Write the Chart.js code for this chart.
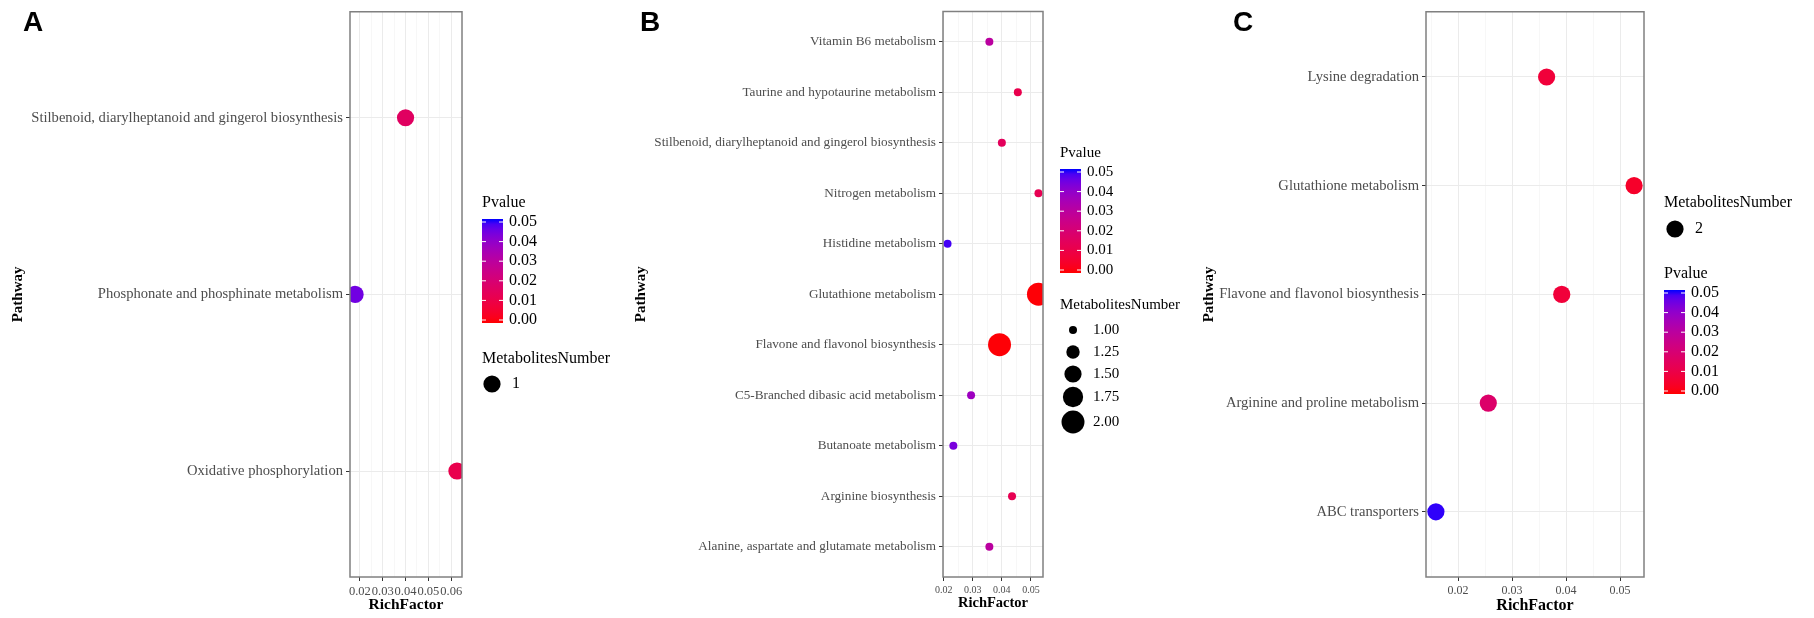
<!DOCTYPE html>
<html>
<head>
<meta charset="utf-8">
<script src="https://cdn.jsdelivr.net/npm/chart.js@4.4.1/dist/chart.umd.min.js"></script>
<style>
  html, body { margin: 0; background: #fff; }
  #page { position: relative; width: 1814px; height: 618px; overflow: hidden; }
  canvas { position: absolute; top: 0; }
  .tag { position: absolute; top: 8px; font: bold 28px 'Liberation Sans', Arial, sans-serif; line-height: 28px; color: #000; }
</style>
</head>
<body>
<div id="page">
  <canvas id="chartA" width="620" height="618" style="left:0"></canvas>
  <canvas id="chartB" width="570" height="618" style="left:620px"></canvas>
  <canvas id="chartC" width="624" height="618" style="left:1190px"></canvas>
  <div class="tag" style="left:23px">A</div>
  <div class="tag" style="left:640px">B</div>
  <div class="tag" style="left:1233px">C</div>
</div>
<script>
// panel A
const pathwaysA = ['Stilbenoid, diarylheptanoid and gingerol biosynthesis', 'Phosphonate and phosphinate metabolism', 'Oxidative phosphorylation'];
const richA = [0.0400, 0.0179, 0.0625];
const pvalA = [0.016, 0.044, 0.012];
const countA = [1, 1, 1];
const xTicksA = [0.02, 0.03, 0.04, 0.05, 0.06];
const sizeBreaksA = [1];

// panel B
const pathwaysB = ['Vitamin B6 metabolism', 'Taurine and hypotaurine metabolism', 'Stilbenoid, diarylheptanoid and gingerol biosynthesis', 'Nitrogen metabolism', 'Histidine metabolism', 'Glutathione metabolism', 'Flavone and flavonol biosynthesis', 'C5-Branched dibasic acid metabolism', 'Butanoate metabolism', 'Arginine biosynthesis', 'Alanine, aspartate and glutamate metabolism'];
const richB = [0.0357, 0.0455, 0.0400, 0.0526, 0.0213, 0.0526, 0.0392, 0.0294, 0.0233, 0.0435, 0.0357];
const pvalB = [0.030, 0.012, 0.015, 0.013, 0.048, 0.0005, 0.0005, 0.037, 0.043, 0.013, 0.030];
const countB = [1, 1, 1, 1, 1, 2, 2, 1, 1, 1, 1];
const xTicksB = [0.02, 0.03, 0.04, 0.05];
const sizeBreaksB = [1, 1.25, 1.5, 1.75, 2];

// panel C
const pathwaysC = ['Lysine degradation', 'Glutathione metabolism', 'Flavone and flavonol biosynthesis', 'Arginine and proline metabolism', 'ABC transporters'];
const richC = [0.0364, 0.0526, 0.0392, 0.0256, 0.0159];
const pvalC = [0.008, 0.005, 0.008, 0.018, 0.049];
const countC = [2, 2, 2, 2, 2];
const xTicksC = [0.02, 0.03, 0.04, 0.05];
const sizeBreaksC = [2];

const pLegendTicks = [0.05, 0.04, 0.03, 0.02, 0.01, 0.00];
const P_MAX = 0.05;

const SERIF = "'Liberation Serif', 'Times New Roman', serif";

// red -> blue gradient interpolated in Lab, like ggplot's scale_colour_gradient
function toLab([r, g, b]) {
  const lin = c => (c /= 255) <= 0.04045 ? c / 12.92 : Math.pow((c + 0.055) / 1.055, 2.4);
  const R = lin(r), G = lin(g), B = lin(b);
  const f = t => t > 0.008856 ? Math.cbrt(t) : 7.787 * t + 16 / 116;
  const fx = f((0.4124 * R + 0.3576 * G + 0.1805 * B) / 0.95047);
  const fy = f(0.2126 * R + 0.7152 * G + 0.0722 * B);
  const fz = f((0.0193 * R + 0.1192 * G + 0.9505 * B) / 1.08883);
  return [116 * fy - 16, 500 * (fx - fy), 200 * (fy - fz)];
}
function fromLab([L, a, b]) {
  const fy = (L + 16) / 116, fx = fy + a / 500, fz = fy - b / 200;
  const inv = t => t ** 3 > 0.008856 ? t ** 3 : (t - 16 / 116) / 7.787;
  const x = inv(fx) * 0.95047, y = inv(fy), z = inv(fz) * 1.08883;
  const gam = c => {
    c = c <= 0.0031308 ? 12.92 * c : 1.055 * Math.pow(c, 1 / 2.4) - 0.055;
    return Math.round(Math.min(1, Math.max(0, c)) * 255);
  };
  return [gam(3.2406 * x - 1.5372 * y - 0.4986 * z), gam(-0.9689 * x + 1.8758 * y + 0.0415 * z), gam(0.0557 * x - 0.2040 * y + 1.0570 * z)];
}
const LAB_LOW = toLab([255, 0, 0]);
const LAB_HIGH = toLab([0, 0, 255]);
function pColor(p) {
  const t = Math.min(1, Math.max(0, p / P_MAX));
  const rgb = fromLab(LAB_LOW.map((v, i) => v + (LAB_HIGH[i] - v) * t));
  return `rgb(${rgb[0]},${rgb[1]},${rgb[2]})`;
}

// point area grows linearly with MetabolitesNumber
function radiusFor(n, counts) {
  const lo = Math.min(...counts), hi = Math.max(...counts);
  const t = hi > lo ? (n - lo) / (hi - lo) : 0.5;
  return Math.sqrt(16 + 116 * t);
}

const panelDecor = {
  id: 'panelDecor',
  afterDraw(chart, args, o) {
    const { ctx, chartArea: a } = chart;
    ctx.save();
    ctx.strokeStyle = '#808080';
    ctx.lineWidth = 1.5;
    ctx.strokeRect(a.left, a.top, a.right - a.left, a.bottom - a.top);

    const x0 = a.right + o.gap;
    ctx.fillStyle = '#000';
    ctx.textBaseline = 'middle';
    ctx.textAlign = 'left';

    // Pvalue colourbar
    ctx.font = `${o.fontSize}px ${SERIF}`;
    ctx.fillText('Pvalue', x0, o.pTitleY);
    const barTop = o.pTitleY + 16, barH = 104, barW = 21;
    const grad = ctx.createLinearGradient(0, barTop, 0, barTop + barH);
    for (let i = 0; i <= 20; i++) grad.addColorStop(i / 20, pColor(P_MAX * (1 - i / 20)));
    ctx.fillStyle = grad;
    ctx.fillRect(x0, barTop, barW, barH);
    ctx.strokeStyle = '#fff';
    ctx.lineWidth = 1;
    ctx.fillStyle = '#000';
    pLegendTicks.forEach(v => {
      const y = barTop + 3 + (P_MAX - v) / P_MAX * (barH - 6);
      ctx.beginPath();
      ctx.moveTo(x0, y); ctx.lineTo(x0 + 4, y);
      ctx.moveTo(x0 + barW - 4, y); ctx.lineTo(x0 + barW, y);
      ctx.stroke();
      ctx.fillText(v.toFixed(2), x0 + 27, y);
    });

    // MetabolitesNumber size key
    ctx.fillText('MetabolitesNumber', x0, o.sizeTitleY);
    o.sizeBreaks.forEach((n, i) => {
      const y = o.sizeRows[i];
      ctx.beginPath();
      ctx.arc(x0 + o.keyX, y, radiusFor(n, o.counts), 0, Math.PI * 2);
      ctx.fill();
      ctx.fillText(o.sizeBreaks.length > 1 ? n.toFixed(2) : String(n), x0 + o.keyX + 20, y);
    });
    ctx.restore();
  }
};

function makePanel(id, d, lay) {
  const lo0 = Math.min(...d.rich), hi0 = Math.max(...d.rich);
  const pad = (hi0 - lo0) * 0.05;
  const lo = lo0 - pad, hi = hi0 + pad;
  const isMajor = v => d.xTicks.some(m => Math.abs(m - v) < 1e-9);
  const xTickList = [];
  d.xTicks.forEach(m => [m - 0.005, m, m + 0.005].forEach(v => {
    v = +v.toFixed(4);
    if (v >= lo && v <= hi && !xTickList.includes(v)) xTickList.push(v);
  }));
  xTickList.sort((p, q) => p - q);

  return new Chart(document.getElementById(id), {
    type: 'bubble',
    data: {
      datasets: [{
        data: d.rich.map((x, i) => ({ x, y: i, r: radiusFor(d.count[i], d.count) })),
        backgroundColor: d.pval.map(pColor),
        borderWidth: 0,
        clip: 0
      }]
    },
    plugins: [panelDecor],
    options: {
      responsive: false,
      animation: false,
      events: [],
      layout: { padding: { left: lay.padLeft, top: 11, right: lay.padRight, bottom: 0 } },
      plugins: {
        legend: { display: false },
        tooltip: { enabled: false },
        panelDecor: {
          gap: lay.gap, fontSize: lay.legendFont,
          pTitleY: lay.pTitleY, sizeTitleY: lay.sizeTitleY, sizeRows: lay.sizeRows,
          keyX: lay.keyX, sizeBreaks: d.sizeBreaks, counts: d.count
        }
      },
      scales: {
        x: {
          type: 'linear', min: lo, max: hi,
          afterBuildTicks: ax => { ax.ticks = xTickList.map(v => ({ value: v })); },
          afterFit: ax => { ax.height = 41; },
          ticks: {
            callback: v => isMajor(v) ? v.toFixed(2) : '',
            autoSkip: false, maxRotation: 0, minRotation: 0, padding: 3,
            color: '#4d4d4d', font: { family: SERIF, size: lay.tickSize }
          },
          grid: {
            color: c => isMajor(c.tick.value) ? '#ebebeb' : '#f3f3f3',
            lineWidth: c => isMajor(c.tick.value) ? 1 : 0.7,
            tickColor: c => isMajor(c.tick.value) ? '#333' : 'rgba(0,0,0,0)',
            tickLength: 4
          },
          border: { display: false },
          title: {
            display: true, text: 'RichFactor', color: '#000',
            font: { family: SERIF, size: lay.xTitleSize, weight: 'bold' },
            padding: { top: 0, bottom: lay.xTitlePad }
          }
        },
        y: {
          type: 'linear', reverse: true,
          min: -0.6, max: d.pathways.length - 0.4,
          afterBuildTicks: ax => { ax.ticks = d.pathways.map((_, i) => ({ value: i })); },
          afterFit: ax => { ax.width = lay.yWidth; },
          ticks: {
            callback: v => d.pathways[v],
            autoSkip: false, padding: 3,
            color: '#4d4d4d', font: { family: SERIF, size: lay.labelSize }
          },
          grid: { color: '#ebebeb', lineWidth: 1, tickColor: '#333', tickLength: 4 },
          border: { display: false },
          title: {
            display: true, text: 'Pathway', color: '#000',
            font: { family: SERIF, size: 15, weight: 'bold' },
            padding: 0
          }
        }
      }
    }
  });
}

makePanel('chartA',
  { pathways: pathwaysA, rich: richA, pval: pvalA, count: countA, xTicks: xTicksA, sizeBreaks: sizeBreaksA },
  { padLeft: 9, yWidth: 341, padRight: 158, labelSize: 14.6, tickSize: 12.5, xTitleSize: 15.5, xTitlePad: 4,
    legendFont: 16, gap: 20, pTitleY: 203, sizeTitleY: 359, sizeRows: [384], keyX: 10 });

makePanel('chartB',
  { pathways: pathwaysB, rich: richB, pval: pvalB, count: countB, xTicks: xTicksB, sizeBreaks: sizeBreaksB },
  { padLeft: 12, yWidth: 311, padRight: 147, labelSize: 13.2, tickSize: 10, xTitleSize: 14.5, xTitlePad: 6,
    legendFont: 15, gap: 17, pTitleY: 153, sizeTitleY: 305, sizeRows: [330, 352, 374, 397, 422], keyX: 13 });

makePanel('chartC',
  { pathways: pathwaysC, rich: richC, pval: pvalC, count: countC, xTicks: xTicksC, sizeBreaks: sizeBreaksC },
  { padLeft: 10, yWidth: 226, padRight: 170, labelSize: 14.6, tickSize: 12, xTitleSize: 16, xTitlePad: 3,
    legendFont: 16, gap: 20, pTitleY: 274, sizeTitleY: 203, sizeRows: [229], keyX: 11 });
</script>
</body>
</html>
